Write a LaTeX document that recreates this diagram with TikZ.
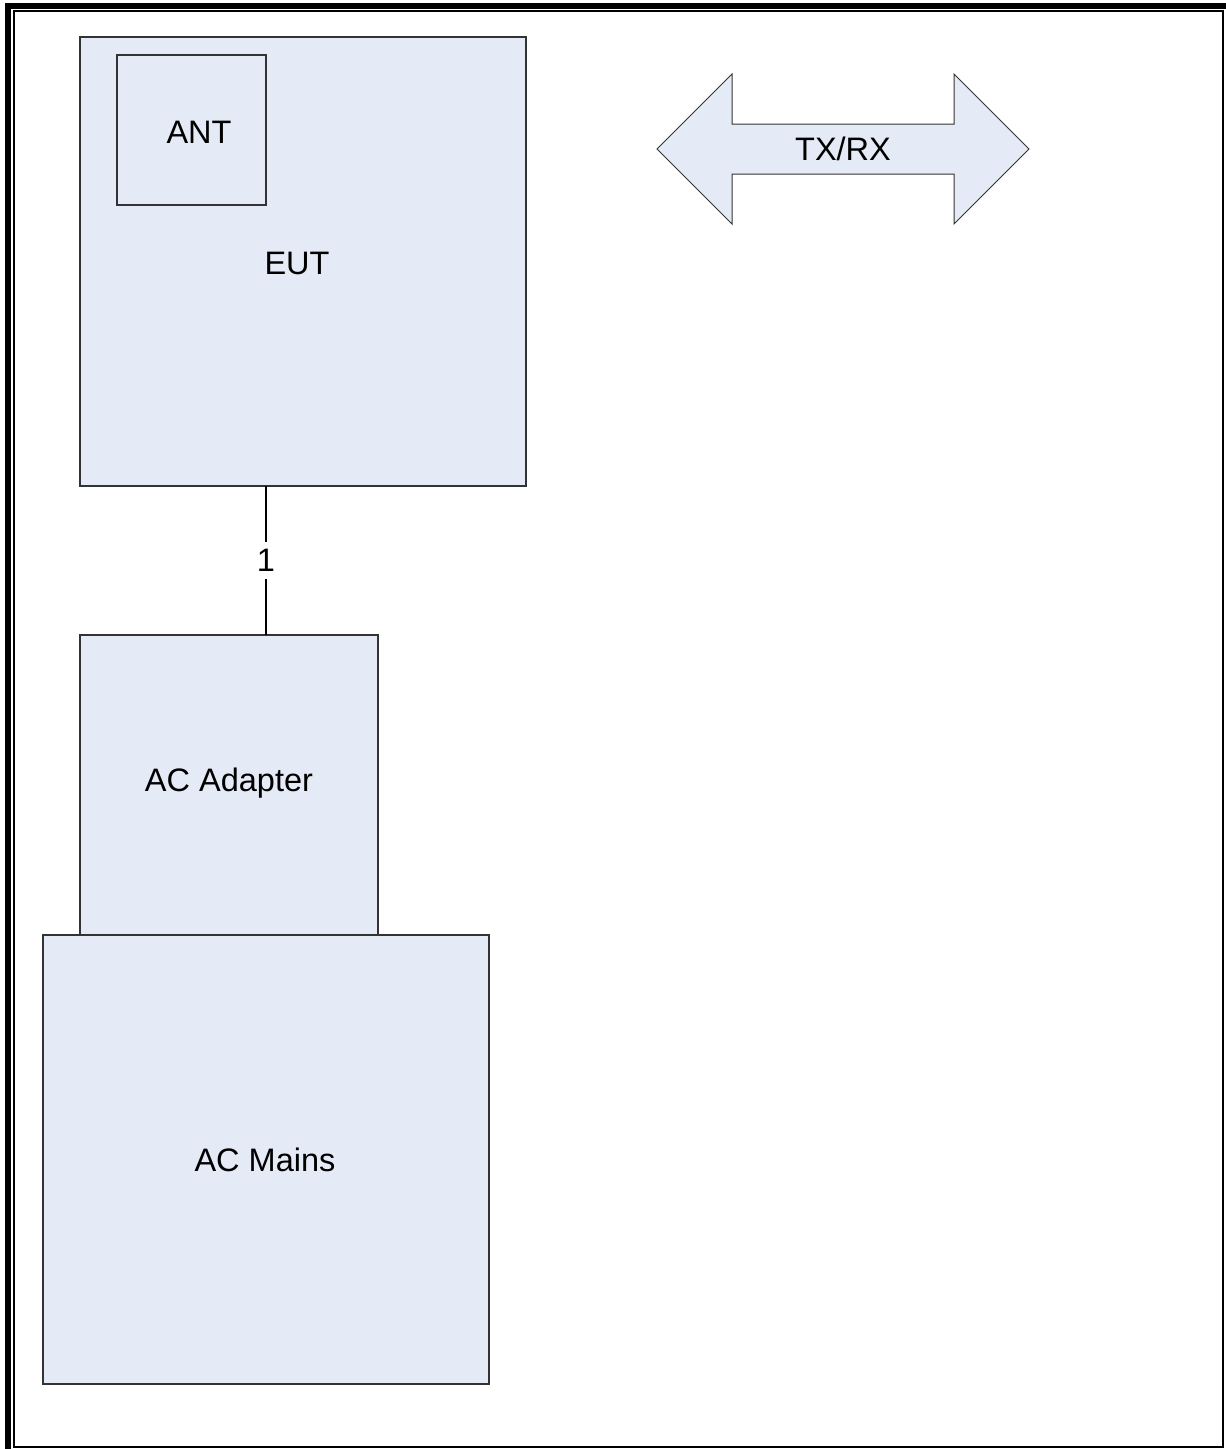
\documentclass[tikz,border=0pt]{standalone}
\usepackage{fontspec}
\setmainfont{Liberation Sans}
\definecolor{boxfill}{HTML}{E5EBF6}
\definecolor{boxline}{HTML}{333333}
\begin{document}
\begin{tikzpicture}[x=1pt,y=-1pt,
  blk/.style={draw=boxline,fill=boxfill,line width=1.2pt,rectangle,inner sep=0pt},
  lbl/.style={font=\fontsize{32.5}{38}\selectfont,inner sep=1pt}]
\useasboundingbox (0,0) rectangle (1226,1449);
% page border
\draw[line width=6pt] (5,6) -- (1226,6);
\draw[line width=6pt] (8,3) -- (8,1449);
\draw[line width=2pt] (14,11) rectangle (1223,1447);
% boxes
\node[blk,minimum width=446pt,minimum height=449pt] (eut) at (303,261.5) {};
\node[lbl] at (297,263) {EUT};
\node[blk,minimum width=149pt,minimum height=150pt] (ant) at (191.5,130) {};
\node[lbl] at (199,132) {ANT};
\node[blk,minimum width=298pt,minimum height=300pt] (adp) at (229,785) {};
\node[lbl] at (229,783) {AC Adapter};
\node[blk,minimum width=446pt,minimum height=449pt] (mains) at (266,1159.5) {};
\node[lbl] at (265,1160) {AC Mains};
% connector
\coordinate (c1) at (266,486);
\coordinate (c2) at (266,635);
\draw[line width=1.2pt] (c1) -- (c2) node[midway,fill=white,inner xsep=3pt,inner ysep=7pt,font=\fontsize{32.5}{38}\selectfont] (one) {1};
% TX/RX arrow
\draw[draw=boxline,fill=boxfill,line width=1pt]
  (657,149) -- (732,74) -- (732,124) -- (954,124) -- (954,74) -- (1029,149)
  -- (954,224) -- (954,174) -- (732,174) -- (732,224) -- cycle;
\node[lbl] (txrx) at (843,149) {TX/RX};
\end{tikzpicture}
\end{document}
